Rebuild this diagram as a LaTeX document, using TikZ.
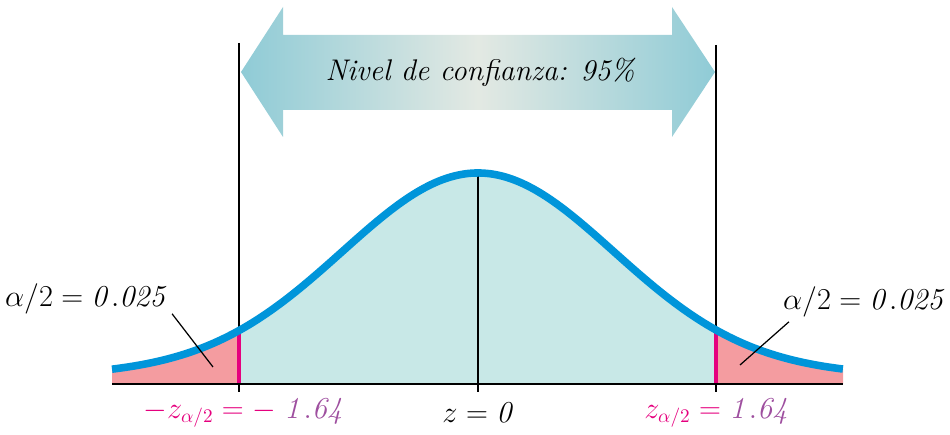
\documentclass[tikz,border=0pt]{standalone}
\usepackage{amsmath}
\usetikzlibrary{arrows.meta}

\definecolor{curveblue}{HTML}{0095DA}
\definecolor{bodyteal}{HTML}{C8E8E7}
\definecolor{tailpink}{HTML}{F49CA0}
\definecolor{cutmagenta}{HTML}{E5007E}
\definecolor{valpurple}{HTML}{9E4F9F}
\definecolor{arrowedge}{HTML}{8FCBD6}
\definecolor{arrowmid}{HTML}{E3E9E3}

\begin{document}
\begin{tikzpicture}[declare function={gauss(\x)=3.92*exp(-((\x-9.56)^2)/14.58)+0.3*exp(-((\x-9.56)^2)/128);}]

\useasboundingbox (0,0) rectangle (19,8.7);

\tikzset{CutLine/.style={line width=1.3pt,black},
         LabelText/.style={font=\fontsize{16}{19}\selectfont,inner sep=1pt}}

% Key points on the axis
\coordinate (L0) at (2.24,1.02);
\coordinate (R0) at (16.86,1.02);
\coordinate (LC) at (4.78,1.02);
\coordinate (RC) at (14.32,1.02);
\coordinate (M0) at (9.56,1.02);

% Confidence arrow
\shade[left color=arrowedge, right color=arrowedge, middle color=arrowmid]
    (4.82,7.26) -- (5.66,8.56) -- (5.66,8.0) -- (13.44,8.0) -- (13.44,8.56)
    -- (14.30,7.26) -- (13.44,5.96) -- (13.44,6.5) -- (5.66,6.5) -- (5.66,5.96) -- cycle;
\node (conf) at (9.6,7.26) [font=\fontsize{17}{20}\selectfont\itshape] {Nivel de confianza: 95\%};

% Vertical limit lines
\coordinate (LT) at (4.78,7.84);
\coordinate (RT) at (14.32,7.80);
\draw [CutLine] (LT) -- ([yshift=-0.16cm]LC);
\draw [CutLine] (RT) -- ([yshift=-0.16cm]RC);

% Areas under the curve
\fill [tailpink] (L0) -- plot[domain=2.24:4.78, samples=40] (\x,{1.02+gauss(\x)}) -- (LC) -- cycle;
\fill [tailpink] (RC) -- plot[domain=14.32:16.86, samples=40] (\x,{1.02+gauss(\x)}) -- (R0) -- cycle;
\fill [bodyteal] (LC) -- plot[domain=4.78:14.32, samples=100] (\x,{1.02+gauss(\x)}) -- (RC) -- cycle;

% Cut-off marks
\draw [cutmagenta, line width=2pt] (LC) -- (4.78,{1.02+gauss(4.78)});
\draw [cutmagenta, line width=2pt] (RC) -- (14.32,{1.02+gauss(14.32)});

% Center line and axis
\coordinate (peak) at (9.56,{1.02+gauss(9.56)});
\draw [black, line width=0.9pt] (peak) -- ([yshift=-0.16cm]M0);
\draw [black, line width=1.2pt] (L0) -- (R0);

% Normal curve
\draw [curveblue, line width=4.3pt, line cap=butt]
    plot[domain=2.24:16.86, samples=200] (\x,{1.02+gauss(\x)});

% Tail labels
\node (alphaL) at (1.74,2.72) [LabelText] {$\alpha/2 = \mathit{0.025}$};
\node (alphaR) at (17.3,2.66) [LabelText] {$\alpha/2 = \mathit{0.025}$};
\coordinate (tailL) at (4.26,1.36);
\coordinate (tailR) at (14.80,1.40);
\draw [black, line width=0.7pt] (alphaL.south east) ++(0.02,0.05) -- (tailL);
\draw [black, line width=0.7pt] (alphaR.south west) ++(0.16,-0.05) -- (tailR);

% Axis values
\node (zL) at (4.9,0.44) [LabelText]
    {\color{cutmagenta}$-z_{\alpha/2} = -$ \color{valpurple}$\mathit{1.64}$};
\node (zM) at (9.58,0.44) [LabelText] {$z = \mathit{0}$};
\node (zR) at (14.36,0.44) [LabelText]
    {\color{cutmagenta}$z_{\alpha/2} =$ \color{valpurple}$\mathit{1.64}$};

\end{tikzpicture}
\end{document}
